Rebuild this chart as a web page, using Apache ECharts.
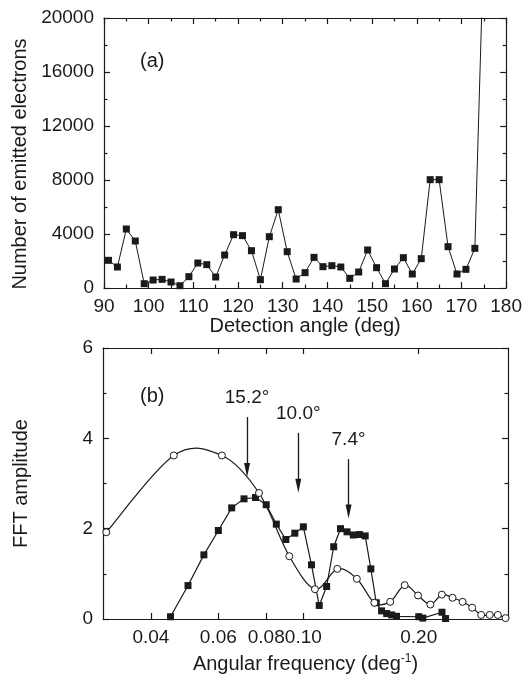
<!DOCTYPE html>
<html><head><meta charset="utf-8">
<script src="https://cdn.jsdelivr.net/npm/echarts@6/dist/echarts.min.js"></script>
<style>html,body{margin:0;padding:0;background:#fff}#c{width:525px;height:677px}</style>
</head><body><div id="c"></div>
<script>
// ---- Panel (a): emitted electrons vs detection angle ----
const angles = [91,93,95,97,99,101,103,105,107,109,111,113,115,117,119,121,123,125,127,129,131,133,135,137,139,141,143,145,147,149,151,153,155,157,159,161,163,165,167,169,171,173,175];
const electrons = [2050,1555,4370,3480,320,590,640,444,170,840,1850,1730,815,2444,3950,3880,2765,617,3800,5800,2690,667,1136,2270,1580,1654,1555,716,1185,2815,1506,320,1407,2246,1037,2172,8025,8025,3062,1037,1383,2938,25700];

// ---- Panel (b): FFT amplitude vs angular frequency ----
const openFreq = [0.0306,0.0459,0.0613,0.0766,0.0919,0.1072,0.1226,0.1379,0.1532,0.1685,0.1838,0.1992,0.2145,0.2298,0.2451,0.2604,0.2758,0.2911,0.3064,0.3217,0.3370];
const openAmp  = [1.92,3.62,3.62,2.79,1.39,0.66,1.11,0.89,0.36,0.38,0.75,0.52,0.32,0.54,0.47,0.38,0.25,0.09,0.09,0.09,0.02];
const sqFreq = [0.045,0.050,0.055,0.060,0.065,0.070,0.075,0.080,0.085,0.090,0.095,0.100,0.105,0.110,0.115,0.120,0.125,0.130,0.135,0.140,0.145,0.150,0.155,0.160,0.165,0.170,0.175,0.200,0.205,0.230,0.235];
const sqAmp  = [0.05,0.74,1.42,1.96,2.46,2.66,2.69,2.53,2.10,1.76,1.90,2.04,1.20,0.30,0.72,1.60,2.00,1.93,1.86,1.87,1.84,1.11,0.36,0.18,0.12,0.09,0.06,0.05,0.02,0.15,0.01];

// frequency axis tick labels
const freqTicks = [0.04,0.06,0.08,0.10,0.20];
const freqRange = [0.03,0.342];

// arrows (annotation)
const arrowFreq = [0.0713,0.0970,0.1312];
const arrowTop  = [4.47,4.12,3.54];
const arrowTip  = [3.30,2.95,2.38];
const arrowText = ['15.2°','10.0°','7.4°'];

const L = v => Math.log10(v);
const ink = '#1a1a1a';
const font = 'Liberation Sans, Arial, sans-serif';
const tickFont = 19, nameFont = 20;

const lineStyle = {color: ink, width: 1.2};
function mkAxis(extra) {
  return Object.assign({
    type: 'value',
    axisLine: {show: true, onZero: false, lineStyle},
    axisTick: {show: true, inside: true, length: 6, lineStyle},
    splitLine: {show: false},
    axisLabel: {show: false, color: ink, fontSize: tickFont, fontFamily: font},
    nameTextStyle: {color: ink, fontSize: nameFont, fontFamily: font}
  }, extra);
}
const minor = {show: true, splitNumber: 2, length: 3.5, lineStyle};
const plain = v => String(v);

// smooth Catmull-Rom curve through the open-circle points (custom series renderer)
function renderCurve(params, api) {
  if (params.dataIndex !== 0) return null;
  const P = openFreq.map((f, i) => api.coord([L(f), openAmp[i]]));
  let d = 'M' + P[0][0] + ',' + P[0][1];
  for (let i = 0; i < P.length - 1; i++) {
    const p0 = P[i - 1] || P[i], p1 = P[i], p2 = P[i + 1], p3 = P[i + 2] || P[i + 1];
    const c1 = [p1[0] + (p2[0] - p0[0]) / 6, p1[1] + (p2[1] - p0[1]) / 6];
    const c2 = [p2[0] - (p3[0] - p1[0]) / 6, p2[1] - (p3[1] - p1[1]) / 6];
    d += ' C' + c1[0] + ',' + c1[1] + ' ' + c2[0] + ',' + c2[1] + ' ' + p2[0] + ',' + p2[1];
  }
  return {type: 'path', shape: {pathData: d}, style: {fill: null, stroke: ink, lineWidth: 1.2}};
}

const chart = echarts.init(document.getElementById('c'), null, {renderer: 'canvas'});
const option = {
  animation: false,
  backgroundColor: '#fff',
  textStyle: {fontFamily: font, color: ink},
  grid: [
    {left: 104, top: 18, width: 405, height: 270},
    {left: 103, top: 348, width: 405, height: 271}
  ],
  xAxis: [
    mkAxis({gridIndex: 0, position: 'bottom', min: 90, max: 180, interval: 10, minorTick: minor,
      axisLabel: {show: true, margin: 9, color: ink, fontSize: tickFont, fontFamily: font, formatter: plain},
      name: 'Detection angle (deg)', nameLocation: 'middle', nameGap: 28}),
    mkAxis({gridIndex: 0, position: 'top', min: 90, max: 180, interval: 10, minorTick: minor}),
    mkAxis({gridIndex: 1, position: 'bottom', min: L(freqRange[0]), max: L(freqRange[1]),
      axisTick: {show: true, inside: true, length: 6, lineStyle, customValues: freqTicks.map(L)},
      axisLabel: {show: true, margin: 9, color: ink, fontSize: tickFont, fontFamily: font,
        customValues: freqTicks.map(L),
        formatter: v => Math.pow(10, v).toFixed(2)},
      name: 'Angular frequency (deg{sup|-1})', nameLocation: 'middle', nameGap: 34,
      nameTextStyle: {color: ink, fontSize: nameFont, fontFamily: font,
        rich: {sup: {fontSize: 12, verticalAlign: 'top', padding: [0,0,10,0], color: ink, fontFamily: font}}}}),
    mkAxis({gridIndex: 1, position: 'top', min: L(freqRange[0]), max: L(freqRange[1]),
      axisTick: {show: true, inside: true, length: 6, lineStyle, customValues: freqTicks.map(L)}})
  ],
  yAxis: [
    mkAxis({gridIndex: 0, position: 'left', min: 0, max: 20000, interval: 4000, minorTick: minor,
      axisLabel: {show: true, margin: 10, color: ink, fontSize: tickFont, fontFamily: font, formatter: plain},
      name: 'Number of emitted electrons', nameLocation: 'middle', nameRotate: 90, nameGap: 72,
      nameTextStyle: {color: ink, fontSize: nameFont, fontFamily: font, padding: [0, 22, 0, 0]}}),
    mkAxis({gridIndex: 0, position: 'right', min: 0, max: 20000, interval: 4000, minorTick: minor}),
    mkAxis({gridIndex: 1, position: 'left', min: 0, max: 6, interval: 2, minorTick: minor,
      axisLabel: {show: true, margin: 10, color: ink, fontSize: tickFont, fontFamily: font, formatter: plain},
      name: 'FFT amplitude', nameLocation: 'middle', nameRotate: 90, nameGap: 72}),
    mkAxis({gridIndex: 1, position: 'right', min: 0, max: 6, interval: 2, minorTick: minor})
  ],
  series: [
    {
      type: 'line', xAxisIndex: 0, yAxisIndex: 0, clip: true,
      data: angles.map((a, i) => [a, electrons[i]]),
      symbol: 'rect', symbolSize: 7, itemStyle: {color: ink},
      lineStyle: {color: ink, width: 1}
    },
    {
      type: 'line', xAxisIndex: 2, yAxisIndex: 2, clip: true,
      data: sqFreq.map((f, i) => [L(f), sqAmp[i]]),
      symbol: 'rect', symbolSize: 7, itemStyle: {color: ink},
      lineStyle: {color: ink, width: 1.2},
      markLine: {
        silent: true, animation: false,
        lineStyle: {color: ink, width: 1.3, type: 'solid'},
        label: {show: true, position: 'start', distance: 10, color: ink, fontSize: tickFont, fontFamily: font},
        data: arrowFreq.map((f, i) => [
          {coord: [L(f), arrowTop[i]], symbol: 'none', label: {formatter: arrowText[i]}},
          {coord: [L(f), arrowTip[i]], symbol: 'path://M5,0 L10,22 L0,22 Z', symbolSize: [6, 14]}
        ])
      }
    },
    {
      type: 'custom', xAxisIndex: 2, yAxisIndex: 2, clip: true, z: 2,
      data: openFreq.map((f, i) => [L(f), openAmp[i]]),
      renderItem: renderCurve
    },
    {
      type: 'scatter', xAxisIndex: 2, yAxisIndex: 2, clip: false, z: 4,
      data: openFreq.map((f, i) => [L(f), openAmp[i]]),
      symbol: 'circle', symbolSize: 7,
      itemStyle: {color: '#fff', borderColor: ink, borderWidth: 1, opacity: 1}
    }
  ],
  graphic: [
    {type: 'text', left: 140, top: 51, style: {text: '(a)', fontSize: nameFont, fontFamily: font, fill: ink}},
    {type: 'text', left: 140, top: 386, style: {text: '(b)', fontSize: nameFont, fontFamily: font, fill: ink}}
  ]
};
chart.setOption(option);
</script></body></html>
